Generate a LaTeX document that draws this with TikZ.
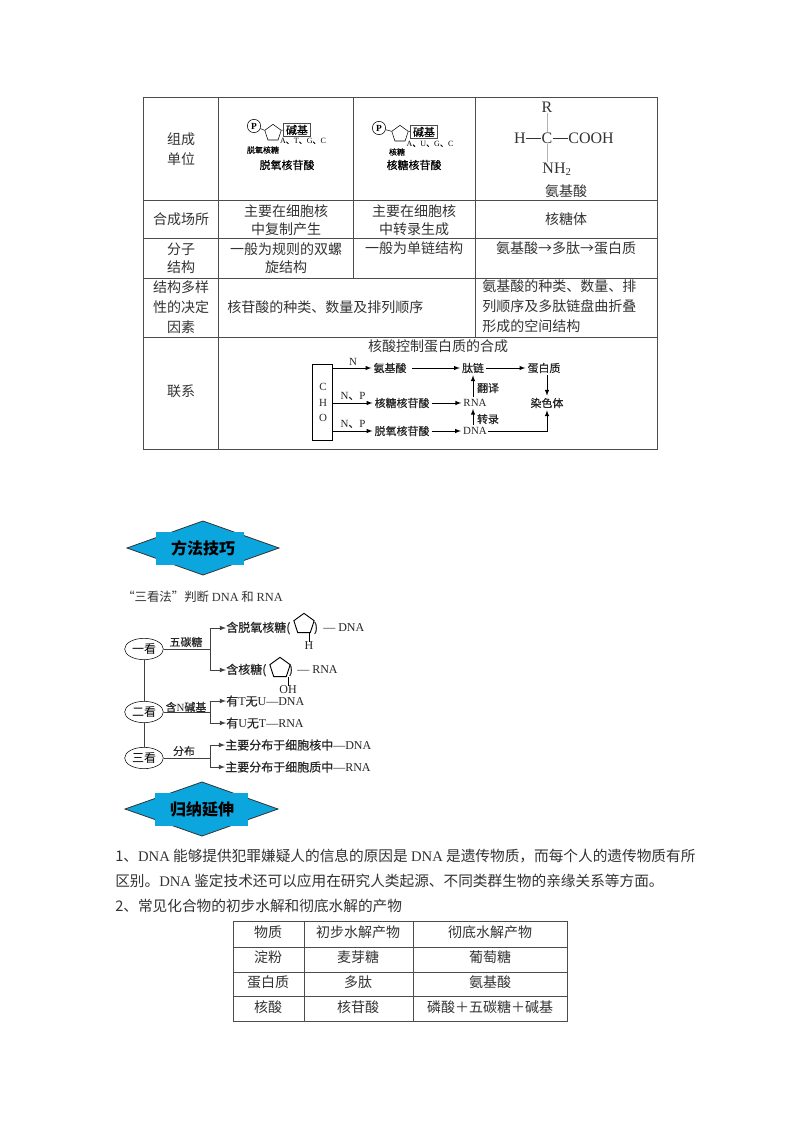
\documentclass[tikz,border=0pt]{standalone}
\usepackage{fontspec}
\setmainfont{Liberation Serif}
\newfontfamily\cjk{Noto Sans CJK SC}
\newfontfamily\cjkm[FakeBold=0.5]{Noto Sans CJK SC}
\usetikzlibrary{arrows,shapes.geometric}
\newcommand{\lat}[1]{{\rmfamily #1}}
\definecolor{bannerblue}{HTML}{0BA6DE}
\definecolor{inkgray}{HTML}{333333}
\tikzset{
  rulebar/.style={line width=.6pt,color=black!70},
  cell/.style={font=\cjk\fontsize{10.5}{12}\selectfont,text=inkgray,inner sep=0pt},
  celll/.style={cell,anchor=west},
  paratxt/.style={celll,font=\cjk\fontsize{11}{13}\selectfont},
  smalltxt/.style={font=\cjkm\fontsize{8.2}{9}\selectfont,text=black,inner sep=0pt},
  tinytxt/.style={font=\cjkm\fontsize{6}{7}\selectfont,text=black,inner sep=0pt},
  flowtxt/.style={font=\cjkm\fontsize{8.2}{9}\selectfont,text=black!85,inner sep=0pt},
  treetxt/.style={font=\cjkm\fontsize{9}{10}\selectfont,text=black!85,inner sep=0pt,anchor=west},
  chemtxt/.style={font=\rmfamily\fontsize{12}{13}\selectfont,text=inkgray,inner sep=0pt},
  pcirc/.style={draw,circle,font=\rmfamily\fontsize{7}{8}\selectfont\bfseries,inner sep=0pt,minimum size=10pt},
  sugar/.style={draw,regular polygon,regular polygon sides=5,inner sep=0pt,minimum size=13pt},
  basebox/.style={draw=black!70,line width=.6pt,font=\cjkm\fontsize{8.2}{9}\selectfont,inner sep=.5pt,minimum width=20pt,minimum height=10pt},
  look/.style={draw,ellipse,font=\cjk\fontsize{9}{10}\selectfont,inner sep=0pt,minimum width=29pt,minimum height=16pt},
  flowline/.style={-latex,line width=.5pt,shorten >=1.5pt,shorten <=1.5pt},
  treeline/.style={line width=.6pt,color=black!75},
  bannerdia/.style={draw=black!80,fill=bannerblue,line width=.6pt},
  bannertxt/.style={font=\cjk\fontsize{12}{14}\selectfont\bfseries,inner sep=0pt},
}
\begin{document}
\begin{tikzpicture}[x=.75pt,y=-.75pt]
\useasboundingbox (0,0) rectangle (800,1132);
\fill[white] (0,0) rectangle (800,1132);
\draw[rulebar] (143,97) rectangle (657,449);
\draw[rulebar] (143,200) -- (657,200);
\draw[rulebar] (143,238) -- (657,238);
\draw[rulebar] (143,278) -- (657,278);
\draw[rulebar] (143,337) -- (657,337);
\draw[rulebar] (218,97) -- (218,449);
\draw[rulebar] (353,97) -- (353,278);
\draw[rulebar] (475,97) -- (475,337);
\draw (181,139) node (unita) [cell] {组成};
\draw (181,159) node (unitb) [cell] {单位};
\draw (254,126) node (p1) [pcirc] {P};
\draw (273,133) node (s1) [sugar] {};
\draw (297,130) node (b1) [basebox] {碱基};
\draw (303,141) node (k1) [tinytxt] {\lat{A}、\lat{T}、\lat{G}、\lat{C}};
\draw (263,150) node (w1) [tinytxt] {脱氧核糖};
\draw (287,165) node (n1) [smalltxt] {脱氧核苷酸};
\draw (p1) -- (s1.corner 2);
\draw (s1.corner 5) -- (b1);
\draw (379,128) node (p2) [pcirc] {P};
\draw (400,134) node (s2) [sugar] {};
\draw (424,132) node (b2) [basebox] {碱基};
\draw (430,144) node (k2) [tinytxt] {\lat{A}、\lat{U}、\lat{G}、\lat{C}};
\draw (397,152) node (w2) [tinytxt] {核糖};
\draw (414,165) node (n2) [smalltxt] {核糖核苷酸};
\draw (p2) -- (s2.corner 2);
\draw (s2.corner 5) -- (b2);
\draw (547,107) node (cr) [chemtxt] {R};
\draw (520,138) node (ch) [chemtxt] {H};
\draw (547,138) node (cc) [chemtxt] {C};
\draw (591,138) node (cooh) [chemtxt] {COOH};
\draw (557,169) node (cn) [chemtxt] {NH\textsubscript{2}};
\draw (566,191) node (acid) [cell] {氨基酸};
\draw[color=inkgray] (ch) -- (cc);
\draw[color=inkgray] (cc) -- (cooh);
\draw[color=black!30] (cr) -- (cc);
\draw[color=black!30] (cc) -- (cc |- cn.north);
\draw (181,219) node (site) [cell] {合成场所};
\draw (286,211) node (sa1) [cell] {主要在细胞核};
\draw (286,229) node (sa2) [cell] {中复制产生};
\draw (414,211) node (sb1) [cell] {主要在细胞核};
\draw (414,229) node (sb2) [cell] {中转录生成};
\draw (566,219) node (sc) [cell] {核糖体};
\draw (181,249) node (stru1) [cell] {分子};
\draw (181,267) node (stru2) [cell] {结构};
\draw (286,249) node (ta1) [cell] {一般为规则的双螺};
\draw (286,267) node (ta2) [cell] {旋结构};
\draw (414,248) node (tb) [cell] {一般为单链结构};
\draw (566,248) node (tc) [cell] {氨基酸→多肽→蛋白质};
\draw (181,287) node (div1) [cell] {结构多样};
\draw (181,307) node (div2) [cell] {性的决定};
\draw (181,327) node (div3) [cell] {因素};
\draw (227,307) node (da) [celll] {核苷酸的种类、数量及排列顺序};
\draw (482,286) node (dc1) [celll] {氨基酸的种类、数量、排};
\draw (482,306) node (dc2) [celll] {列顺序及多肽链盘曲折叠};
\draw (482,326) node (dc3) [celll] {形成的空间结构};
\draw (181,391) node (link) [cell] {联系};
\draw (438,346) node (linkt) [cell] {核酸控制蛋白质的合成};
\draw (322,402) node (cho) [draw,line width=.6pt,minimum width=15pt,minimum height=57pt,inner sep=0pt] {};
\draw (323,387) node (chc) [flowtxt] {\lat{C}};
\draw (323,403) node (chh) [flowtxt] {\lat{H}};
\draw (323,418) node (cho2) [flowtxt] {\lat{O}};
\draw (390,368) node (fa) [flowtxt] {氨基酸};
\draw (473,368) node (fb) [flowtxt] {肽链};
\draw (544,368) node (fc) [flowtxt] {蛋白质};
\draw (402,403) node (fd) [flowtxt] {核糖核苷酸};
\draw (475,403) node (fe) [flowtxt] {\lat{RNA}};
\draw (547,403) node (ff) [flowtxt] {染色体};
\draw (402,431) node (fg) [flowtxt] {脱氧核苷酸};
\draw (475,431) node (fh) [flowtxt] {\lat{DNA}};
\draw (353,362) node (la) [flowtxt] {\lat{N}};
\draw (353,396) node (lb) [flowtxt] {\lat{N}、\lat{P}};
\draw (353,424) node (lc) [flowtxt] {\lat{N}、\lat{P}};
\draw (488,388) node (ld) [flowtxt] {翻译};
\draw (488,419) node (le) [flowtxt] {转录};
\draw[flowline,shorten <=0pt] (cho.east |- fa) -- (fa.west);
\draw[flowline,shorten <=0pt] (cho.east |- fd) -- (fd.west);
\draw[flowline,shorten <=0pt] (cho.east |- fg) -- (fg.west);
\draw[flowline,shorten <=4pt] (fa.east) -- (fb.west);
\draw[flowline] (fb.east) -- (fc.west);
\draw[flowline] (fd.east) -- (fe.west);
\draw[flowline] (fg.east) -- (fh.west);
\draw[flowline] (fe.north -| fb) -- (fb.south);
\draw[flowline] (fh.north -| fb) -- (fe.south -| fb);
\draw[flowline] (fc.south -| ff) -- (ff.north);
\draw[flowline,shorten <=1pt] (fh.east) -| (ff.south);
\draw[bannerdia] (127,548) -- (203,521) -- (279,548) -- (203,575) -- cycle;
\fill[bannerblue] (156,532) rectangle (244,565);
\draw (203,548) node (ban1) [bannertxt] {方法技巧};
\draw (122,597) node (tri) [celll,font=\cjk\fontsize{9.3}{11}\selectfont] {“三看法”判断 \lat{DNA} 和 \lat{RNA}};
\draw (144,649) node (look1) [look] {一看};
\draw (144,712) node (look2) [look] {二看};
\draw (144,758) node (look3) [look] {三看};
\draw[treeline] (look1) -- (look2);
\draw[treeline] (look2) -- (look3);
\draw (210,649) coordinate (j1);
\draw (210,712) coordinate (j2);
\draw (210,758) coordinate (j3);
\draw[treeline] (look1) -- (j1);
\draw[treeline] (look2) -- (j2);
\draw[treeline] (look3) -- (j3);
\draw (186,642) node (e1) [flowtxt] {五碳糖};
\draw (186,707) node (e2) [flowtxt] {含\lat{N}碱基};
\draw (184,751) node (e3) [flowtxt] {分布};
\draw (226,628) node (t1) [treetxt] {含脱氧核糖(};
\draw (304,624) node (s3) [draw,line width=.7pt,regular polygon,regular polygon sides=5,inner sep=0pt,minimum size=16pt] {};
\draw (316,628) node (t1b) [treetxt,anchor=center] {)};
\draw (323,628) node (t1c) [treetxt] {\lat{— DNA}};
\draw (309,646) node (h3) [treetxt,anchor=center] {\lat{H}};
\draw (h3.north) -- (h3.north |- s3.south);
\draw (226,670) node (t2) [treetxt] {含核糖(};
\draw (280,668) node (s4) [draw,line width=.7pt,regular polygon,regular polygon sides=5,inner sep=0pt,minimum size=16pt] {};
\draw (291,670) node (t2b) [treetxt,anchor=center] {)};
\draw (297,670) node (t2c) [treetxt] {\lat{— RNA}};
\draw (288,690) node (oh) [treetxt,anchor=center] {\lat{OH}};
\draw (oh.north) -- (oh.north |- s4.south);
\draw (226,701) node (t3) [treetxt] {有\lat{T}无\lat{U—DNA}};
\draw (226,723) node (t4) [treetxt] {有\lat{U}无\lat{T—RNA}};
\draw (225,745) node (t5) [treetxt] {主要分布于细胞核中\lat{—DNA}};
\draw (225,767) node (t6) [treetxt] {主要分布于细胞质中\lat{—RNA}};
\draw[treeline,-latex] (j1) |- (t1.west);
\draw[treeline,-latex] (j1) |- (t2.west);
\draw[treeline,-latex] (j2) |- (t3.west);
\draw[treeline,-latex] (j2) |- (t4.west);
\draw[treeline,-latex] (j3) |- (t5.west);
\draw[treeline,-latex] (j3) |- (t6.west);
\draw[bannerdia] (125,809) -- (202,782) -- (278,809) -- (202,836) -- cycle;
\fill[bannerblue] (155,793) rectangle (248,826);
\draw (202,809) node (ban2) [bannertxt] {归纳延伸};
\draw (115,856) node (para1) [paratxt] {1、\lat{DNA} 能够提供犯罪嫌疑人的信息的原因是 \lat{DNA} 是遗传物质，而每个人的遗传物质有所};
\draw (115,881) node (para2) [paratxt] {区别。\lat{DNA} 鉴定技术还可以应用在研究人类起源、不同类群生物的亲缘关系等方面。};
\draw (115,906) node (para3) [paratxt] {2、常见化合物的初步水解和彻底水解的产物};
\draw[rulebar] (233,921) rectangle (567,1021);
\draw[rulebar] (233,947) -- (567,947);
\draw[rulebar] (233,972) -- (567,972);
\draw[rulebar] (233,996) -- (567,996);
\draw[rulebar] (304,921) -- (304,1021);
\draw[rulebar] (413,921) -- (413,1021);
\draw (268,932) node (h1) [cell] {物质};
\draw (358,932) node (h2) [cell] {初步水解产物};
\draw (490,932) node (h4) [cell] {彻底水解产物};
\draw (268,957) node (r1a) [cell] {淀粉};
\draw (358,957) node (r1b) [cell] {麦芽糖};
\draw (490,957) node (r1c) [cell] {葡萄糖};
\draw (268,982) node (r2a) [cell] {蛋白质};
\draw (358,982) node (r2b) [cell] {多肽};
\draw (490,982) node (r2c) [cell] {氨基酸};
\draw (268,1007) node (r3a) [cell] {核酸};
\draw (358,1007) node (r3b) [cell] {核苷酸};
\draw (490,1007) node (r3c) [cell] {磷酸＋五碳糖＋碱基};
\end{tikzpicture}
\end{document}
